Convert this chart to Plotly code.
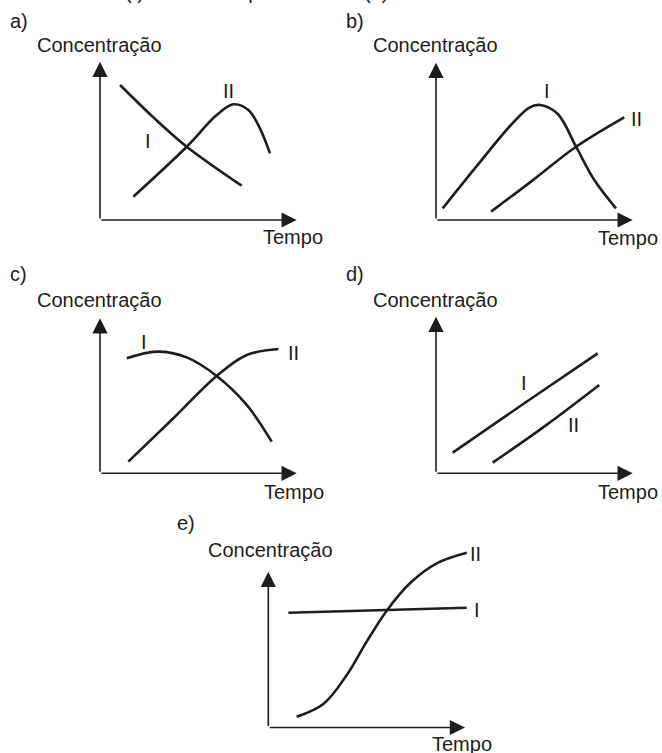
import plotly.graph_objects as go

W, H = 662, 753
INK = "#1d1d1b"
FONT = "Liberation Sans, Arial, Helvetica, sans-serif"

# ---- data (arbitrary units: axis origin = 0, arrow tip = 10) ----
a_I_x = [1.02, 2.7, 4.41, 7.2]
a_I_y = [8.53, 6.5, 4.63, 2.17]
a_II_x = [1.69, 4.41, 5.93, 6.78, 7.54, 8.13, 8.64]
a_II_y = [1.47, 4.63, 6.63, 7.31, 6.95, 5.79, 4.21]

b_I_x = [0.34, 2.12, 3.81, 4.75, 5.3, 6.19, 7.12, 8.05, 9.15]
b_I_y = [0.74, 3.5, 6.04, 7.15, 7.31, 6.74, 4.66, 2.54, 0.74]
b_II_x = [2.8, 4.83, 7.12, 9.57]
b_II_y = [0.53, 2.44, 4.66, 6.53]

c_I_x = [1.36, 2.88, 4.41, 5.93, 7.46, 8.73]
c_I_y = [7.42, 7.85, 7.48, 6.28, 4.41, 2.04]
c_II_x = [1.44, 3.73, 5.93, 7.46, 9.07]
c_II_y = [0.75, 3.55, 6.28, 7.63, 8.02]

d_I_x = [0.85, 4.49, 8.22]
d_I_y = [1.32, 4.47, 7.66]
d_II_x = [2.88, 5.5, 8.3]
d_II_y = [0.68, 2.98, 5.64]

e_I_x = [1.02, 10.09]
e_I_y = [7.37, 7.69]
e_II_x = [1.44, 2.8, 3.99, 5.0, 6.02, 7.2, 8.56, 10.09]
e_II_y = [0.69, 1.51, 3.37, 5.51, 7.5, 9.26, 10.54, 11.22]

panel_names = ["a)", "b)", "c)", "d)", "e)"]
y_title = "Concentração"
x_title = "Tempo"
series_names = ["I", "II"]

# curve-label anchor positions (data units)
label_pos = {
    "a)": [(2.44, 4.96), (6.51, 8.12)],
    "b)": [(5.64, 8.2), (10.17, 6.39)],
    "c)": [(2.24, 8.5), (9.86, 7.73)],
    "d)": [(4.45, 5.77), (6.99, 3.08)],
    "e)": [(10.61, 7.54), (10.51, 11.14)],
}
curves = {
    "a)": [(a_I_x, a_I_y), (a_II_x, a_II_y)],
    "b)": [(b_I_x, b_I_y), (b_II_x, b_II_y)],
    "c)": [(c_I_x, c_I_y), (c_II_x, c_II_y)],
    "d)": [(d_I_x, d_I_y), (d_II_x, d_II_y)],
    "e)": [(e_I_x, e_I_y), (e_II_x, e_II_y)],
}

# ---- layout geometry (pixels): origin, x-arrow tip, y-arrow tip ----
geom = {
    "a)": dict(ox=100, oy=220, tx=296.7, ty=61.7,
               tag=(8, 21), ylab=(35, 45.5), xlab=(261, 237.5)),
    "b)": dict(ox=436, oy=220, tx=632.7, ty=62.7,
               tag=(344, 21), ylab=(371, 45.5), xlab=(596, 238)),
    "c)": dict(ox=100, oy=473.3, tx=296.7, ty=318.3,
               tag=(8, 274), ylab=(35, 299.5), xlab=(262, 492)),
    "d)": dict(ox=436, oy=473.3, tx=632.7, ty=316.7,
               tag=(344, 274), ylab=(371, 299.5), xlab=(596, 492)),
    "e)": dict(ox=268.3, oy=727.5, tx=465, ty=571.7,
               tag=(175, 523), ylab=(206, 550), xlab=(430, 744)),
}
XR = (-0.8, 11.0)
YR = (-0.8, 12.0)


def px(x):
    return x / W


def py(y):
    return 1 - y / H


fig = go.Figure()
layout = {}
for i, name in enumerate(panel_names):
    g = geom[name]
    sx = (g["tx"] - g["ox"]) / 10.0
    sy = (g["oy"] - g["ty"]) / 10.0
    xd = [px(g["ox"] + XR[0] * sx), px(g["ox"] + XR[1] * sx)]
    yd = [py(g["oy"] - YR[0] * sy), py(g["oy"] - YR[1] * sy)]
    suf = "" if i == 0 else str(i + 1)
    xr, yr = "x" + suf, "y" + suf
    layout["xaxis" + suf] = dict(domain=xd, range=list(XR), visible=False,
                                 fixedrange=True, anchor=yr)
    layout["yaxis" + suf] = dict(domain=yd, range=list(YR), visible=False,
                                 fixedrange=True, anchor=xr)

    for (cx, cy), sname, (lx, ly) in zip(curves[name], series_names, label_pos[name]):
        fig.add_trace(go.Scatter(
            x=cx, y=cy, xaxis=xr, yaxis=yr, mode="lines", name=sname,
            line=dict(color=INK, width=2.6, shape="spline", smoothing=1.0),
            showlegend=False, hoverinfo="skip"))
        fig.add_annotation(x=lx, y=ly, xref=xr, yref=yr, text=sname,
                           showarrow=False, font=dict(family=FONT, size=20, color=INK))

    # axes with arrow heads
    for (x1, y1) in [(10, 0), (0, 10)]:
        fig.add_annotation(x=x1, y=y1, ax=0, ay=0, xref=xr, yref=yr,
                           axref=xr, ayref=yr, text="", showarrow=True,
                           arrowhead=2, arrowsize=1.9, arrowwidth=1.6,
                           arrowcolor=INK, standoff=0)

    # texts
    for txt, (tx_, ty_) in [(name, g["tag"]), (y_title, g["ylab"]), (x_title, g["xlab"])]:
        fig.add_annotation(x=px(tx_), y=py(ty_), xref="paper", yref="paper",
                           xanchor="left", yanchor="middle", text=txt,
                           showarrow=False, font=dict(family=FONT, size=20, color=INK))

# clipped remainder of the question text at the very top
fig.add_annotation(x=px(-6), y=1, xref="paper", yref="paper", xanchor="left",
                   yanchor="bottom", yshift=-5,
                   text="da substância (I) e a do seu produto final (II)",
                   showarrow=False, font=dict(family=FONT, size=20, color=INK))

fig.update_layout(width=W, height=H, margin=dict(l=0, r=0, t=0, b=0),
                  paper_bgcolor="white", plot_bgcolor="white", **layout)

fig.write_html("out.html", config={"displayModeBar": False},
               post_script="document.body.style.margin='0';")
